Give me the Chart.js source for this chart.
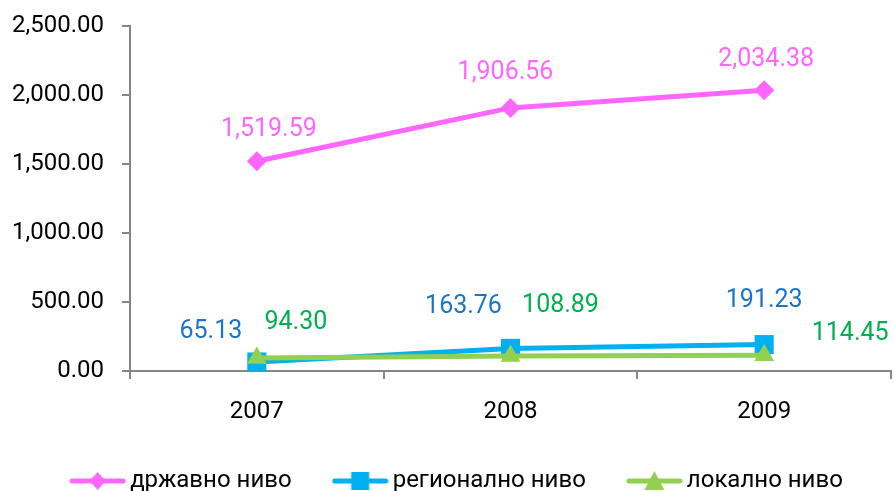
<!DOCTYPE html>
<html>
<head>
<meta charset="utf-8">
<script src="https://cdn.jsdelivr.net/npm/chart.js@4"></script>
<style>
  html, body { margin: 0; padding: 0; background: #fff; overflow: hidden; }
  #wrap { width: 894px; height: 491px; }
</style>
</head>
<body>
<div id="wrap"><canvas id="chart"></canvas></div>
<script>
// DATA
const years = ["2007", "2008", "2009"];
const seriesNames = ["државно ниво", "регионално ниво", "локално ниво"];
const stateLevel = [1519.59, 1906.56, 2034.38];
const regionalLevel = [65.13, 163.76, 191.23];
const localLevel = [94.30, 108.89, 114.45];
const yTicks = [0, 500, 1000, 1500, 2000, 2500];

// label offsets (px) from each point, per series
const labelOffsets = [
    [[12, -32], [-5, -35], [2, -31]],
    [[-46, -30], [-47, -42], [0, -44]],
    [[39, -35], [50, -50], [86, -21]]
];

const lineColors = ["#FF66FF", "#00B0F0", "#92D050"];
const labelColors = ["#FF66FF", "#1A75C9", "#00B050"];
const pointStyles = ["rectRot", "rect", "triangle"];
const pointSizes = [10, 13.5, 11.5];
const FONT = "Roboto, 'DejaVu Sans', sans-serif";

const fmt = v => v.toLocaleString("en-US", { minimumFractionDigits: 2, maximumFractionDigits: 2 });

// legend symbol: line with marker (blank space on the left keeps the item gap)
function legendIcon(i) {
    const c = document.createElement("canvas");
    c.width = 86; c.height = 24;
    const g = c.getContext("2d");
    const cx = 57.5, cy = 12;
    g.strokeStyle = lineColors[i];
    g.fillStyle = lineColors[i];
    g.lineWidth = 5;
    g.lineCap = "round";
    g.beginPath(); g.moveTo(32, cy); g.lineTo(83, cy); g.stroke();
    g.beginPath();
    if (i === 0) {
        g.moveTo(cx, cy - 9); g.lineTo(cx + 8, cy); g.lineTo(cx, cy + 9); g.lineTo(cx - 8, cy);
    } else if (i === 1) {
        g.rect(cx - 9, cy - 9, 18, 18);
    } else {
        g.moveTo(cx, cy - 10); g.lineTo(cx + 10, cy + 9); g.lineTo(cx - 10, cy + 9);
    }
    g.closePath(); g.fill();
    return c;
}
const icons = [0, 1, 2].map(legendIcon);

// DATA LABELS
const dataLabels = {
    id: "dataLabels",
    afterDatasetsDraw(chart) {
        const ctx = chart.ctx;
        ctx.save();
        ctx.font = "25px " + FONT;
        ctx.textAlign = "center";
        ctx.textBaseline = "middle";
        chart.data.datasets.forEach((ds, i) => {
            const meta = chart.getDatasetMeta(i);
            ctx.fillStyle = labelColors[i];
            meta.data.forEach((pt, j) => {
                const off = labelOffsets[i][j];
                ctx.fillText(fmt(ds.data[j]), pt.x + off[0], pt.y + off[1]);
            });
        });
        ctx.restore();
    }
};

const allSeries = [stateLevel, regionalLevel, localLevel];

new Chart(document.getElementById("chart"), {
    type: "line",
    data: {
        labels: years,
        datasets: allSeries.map((d, i) => ({
            label: seriesNames[i],
            data: d,
            borderColor: lineColors[i],
            backgroundColor: lineColors[i],
            borderWidth: 5,
            pointStyle: pointStyles[i],
            pointRadius: pointSizes[i],
            pointBorderWidth: 0,
            fill: false,
            clip: false,
            order: 2 - i
        }))
    },
    options: {
        responsive: true,
        maintainAspectRatio: false,
        animation: false,
        layout: { autoPadding: false, padding: { left: 0, right: 3, top: 26, bottom: -12 } },
        plugins: {
            tooltip: { enabled: false },
            legend: {
                position: "bottom",
                labels: {
                    font: { family: FONT, size: 24 },
                    color: "#000",
                    usePointStyle: true,
                    pointStyleWidth: 70,
                    padding: 19,
                    sort: (a, b) => a.datasetIndex - b.datasetIndex,
                    generateLabels: chart => chart.data.datasets.map((ds, i) => ({
                        text: ds.label,
                        pointStyle: icons[i],
                        fillStyle: lineColors[i],
                        strokeStyle: lineColors[i],
                        lineWidth: 0,
                        fontColor: "#000",
                        datasetIndex: i
                    }))
                }
            }
        },
        scales: {
            x: {
                offset: true,
                grid: {
                    offset: true,
                    drawOnChartArea: false,
                    tickLength: 8,
                    color: "#868686",
                    lineWidth: 2
                },
                border: { color: "#868686", width: 2 },
                ticks: { color: "#000", font: { family: FONT, size: 24 }, padding: 19 },
                afterFit: s => {
                    s.height = 79;
                    s.paddingLeft = 0;
                    s.paddingRight = 0;
                }
            },
            y: {
                min: 0,
                max: 2500,
                afterBuildTicks: s => { s.ticks = yTicks.map(v => ({ value: v })); },
                grid: {
                    drawOnChartArea: false,
                    tickLength: 8,
                    color: "#868686",
                    lineWidth: 2
                },
                border: { color: "#868686", width: 2 },
                ticks: {
                    color: "#000",
                    font: { family: FONT, size: 24 },
                    padding: 18,
                    callback: v => fmt(v)
                },
                afterFit: s => {
                    s.width = 130;
                    s.paddingTop = 0;
                    s.paddingBottom = 0;
                }
            }
        }
    },
    plugins: [dataLabels]
});
</script>
</body>
</html>
